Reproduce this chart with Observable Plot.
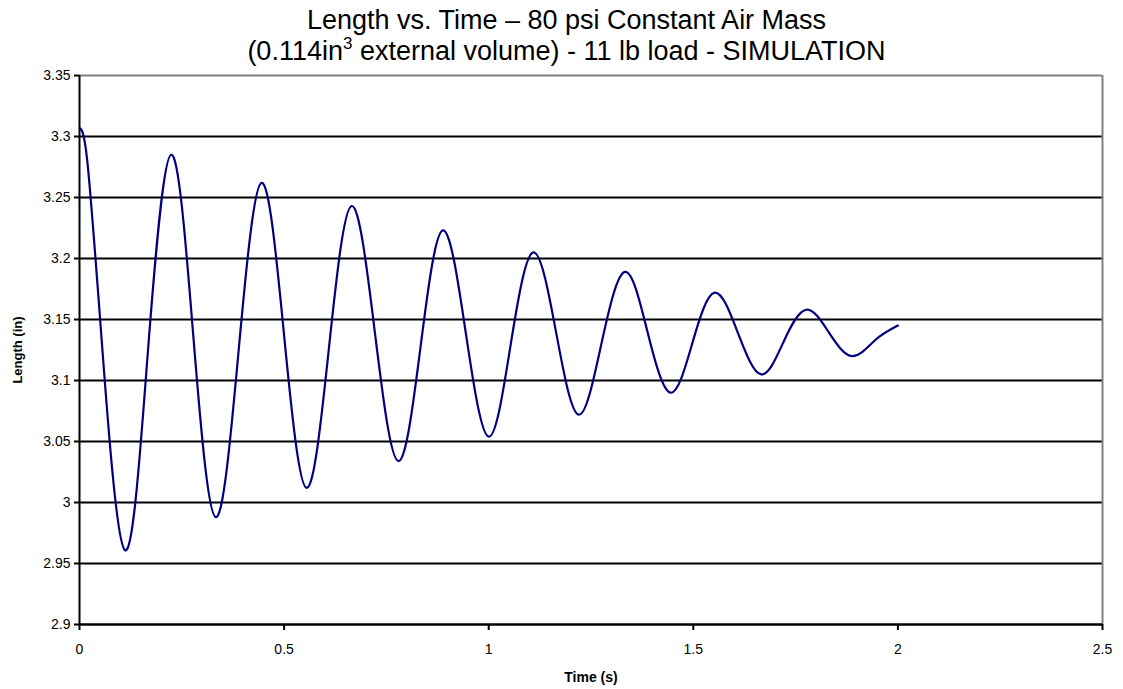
<!DOCTYPE html>
<html>
<head>
<meta charset="utf-8">
<script src="https://cdn.jsdelivr.net/npm/d3@7"></script>
<script src="https://cdn.jsdelivr.net/npm/@observablehq/plot@0.6"></script>
<style>
  body { margin: 0; background: #fff; font-family: "Liberation Sans", Arial, Helvetica, sans-serif; }
  #title { width: 1123px; height: 60px; box-sizing: border-box; padding-top: 5px; padding-left: 10px;
           text-align: center; font-size: 27px; line-height: 31px; color: #000; }
  #title .sup { position: relative; top: -11px; font-size: 17px; }
  #chart svg { display: block; overflow: visible; }
</style>
</head>
<body>
<div id="title">Length vs. Time – 80 psi Constant Air Mass<br>(0.114in<span class="sup">3</span> external volume) - 11 lb load - SIMULATION</div>
<div id="chart"></div>
<script>
// Time (s) at extrema and mid-crossings
const time = [0, 0.019, 0.054, 0.111, 0.167, 0.224, 0.278, 0.333, 0.389, 0.445, 0.500,
              0.555, 0.610, 0.665, 0.722, 0.779, 0.834, 0.888, 0.944, 1.000, 1.054,
              1.109, 1.165, 1.220, 1.276, 1.333, 1.388, 1.444, 1.498, 1.552, 1.609,
              1.666, 1.721, 1.776, 1.832, 1.888, 1.944, 2.000];
// Length (in)
const lengthIn = [3.307, 3.280, 3.134, 2.961, 3.123, 3.285, 3.137, 2.988, 3.125, 3.262, 3.137,
                  3.012, 3.128, 3.243, 3.139, 3.034, 3.129, 3.223, 3.139, 3.054, 3.130,
                  3.205, 3.139, 3.072, 3.131, 3.189, 3.140, 3.090, 3.131, 3.172, 3.139,
                  3.105, 3.132, 3.158, 3.139, 3.120, 3.133, 3.145];
const xTicks = [0, 0.5, 1, 1.5, 2, 2.5];
const yTicks = [2.9, 2.95, 3, 3.05, 3.1, 3.15, 3.2, 3.25, 3.3, 3.35];
const gridLines = [2.95, 3, 3.05, 3.1, 3.15, 3.2, 3.25, 3.3];

const data = time.map((t, i) => ({t, v: lengthIn[i]}));
const fmt = d => String(+(+d).toFixed(2));

const chart = Plot.plot({
  width: 1123,
  height: 629,
  marginTop: 15,
  marginLeft: 79,
  marginRight: 21,
  marginBottom: 65,
  style: {fontFamily: "'Liberation Sans', Arial, Helvetica, sans-serif", fontSize: "14px", background: "white", color: "black", overflow: "visible"},
  x: {domain: [0, 2.5]},
  y: {domain: [2.9, 3.35]},
  marks: [
    Plot.ruleY(gridLines, {stroke: "black", strokeWidth: 2}),
    Plot.ruleY([3.35], {stroke: "#808080", strokeWidth: 2}),
    Plot.ruleX([2.5], {stroke: "#808080", strokeWidth: 2}),
    Plot.ruleX([0], {stroke: "black", strokeWidth: 2}),
    Plot.ruleY([2.9], {stroke: "black", strokeWidth: 2.5}),
    Plot.axisX({ticks: xTicks, tickFormat: fmt, tickSize: 6, tickPadding: 14, strokeWidth: 2, label: null, fontSize: 14}),
    Plot.axisY({ticks: yTicks, tickFormat: fmt, tickSize: 5, tickPadding: 4, strokeWidth: 2, label: null, fontSize: 14}),
    Plot.line(data, {x: "t", y: "v", stroke: "#000080", strokeWidth: 2.2, curve: "natural"}),
    Plot.text(["Time (s)"], {frameAnchor: "bottom", lineAnchor: "middle", dy: 53, fontWeight: "bold", fontSize: 14}),
    Plot.text(["Length (in)"], {frameAnchor: "left", lineAnchor: "middle", textAnchor: "middle", dx: -62, rotate: -90, fontWeight: "bold", fontSize: 13})
  ]
});
document.getElementById("chart").appendChild(chart);
</script>
</body>
</html>
